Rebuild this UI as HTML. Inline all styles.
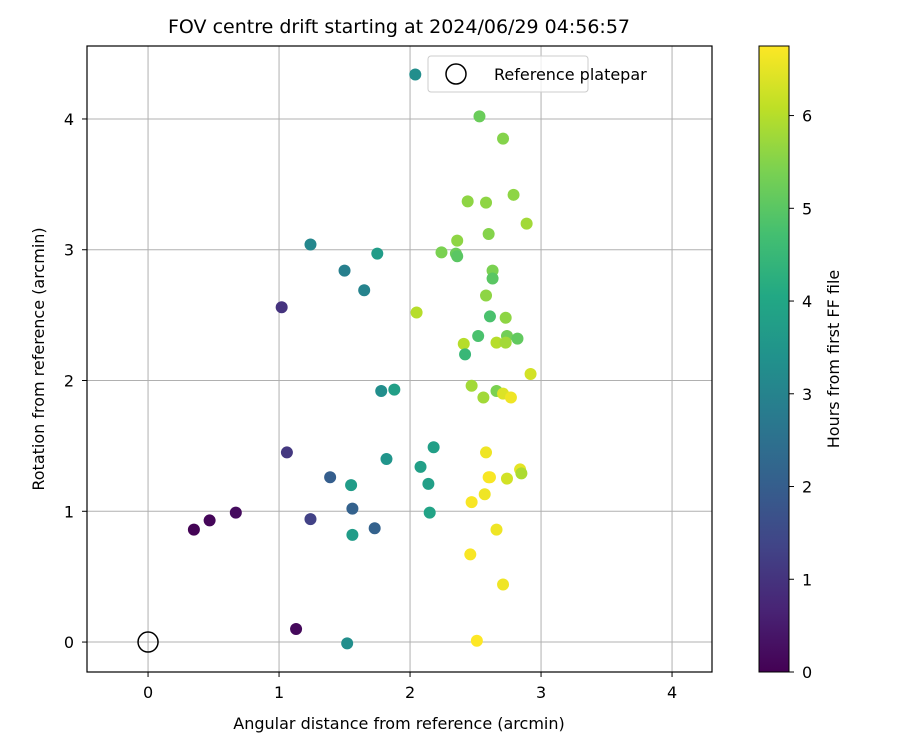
<!DOCTYPE html>
<html><head><meta charset="utf-8"><style>
html,body{margin:0;padding:0;background:#fff;}
svg{display:block;font-family:"DejaVu Sans","Liberation Sans",sans-serif;}
</style></head><body>
<svg id="chart" width="900" height="750" viewBox="0 0 900 750" xmlns="http://www.w3.org/2000/svg">
<defs>
<linearGradient id="vir" x1="0" y1="1" x2="0" y2="0">
<stop offset="0" stop-color="#440154"/><stop offset="0.1" stop-color="#482475"/><stop offset="0.2" stop-color="#414487"/><stop offset="0.3" stop-color="#355f8d"/><stop offset="0.4" stop-color="#2a788e"/><stop offset="0.5" stop-color="#21918c"/><stop offset="0.6" stop-color="#22a884"/><stop offset="0.7" stop-color="#44bf70"/><stop offset="0.8" stop-color="#7ad151"/><stop offset="0.9" stop-color="#bddf26"/><stop offset="1" stop-color="#fde725"/>
</linearGradient>
<clipPath id="clip"><rect x="87" y="46" width="625" height="626"/></clipPath>
</defs>
<text x="399" y="33" font-size="19" text-anchor="middle">FOV centre drift starting at 2024/06/29 04:56:57</text>
<g id="grid"></g>
<g id="points" clip-path="url(#clip)"></g>
<rect x="87" y="46" width="625" height="626" fill="none" stroke="#000" stroke-width="1.2"/>
<g id="axes"></g>
<text x="399" y="729" font-size="16" text-anchor="middle">Angular distance from reference (arcmin)</text>
<text transform="translate(44,359) rotate(-90)" font-size="16" text-anchor="middle">Rotation from reference (arcmin)</text>
<g>
<rect x="428" y="56" width="160" height="36" rx="3" fill="#fff" fill-opacity="0.8" stroke="#ccc"/>
<circle cx="456" cy="74" r="10" fill="none" stroke="#000" stroke-width="1.5"/>
<text x="494" y="80" font-size="16">Reference platepar</text>
</g>
<rect x="759" y="46" width="30" height="626" fill="url(#vir)" stroke="#000" stroke-width="1"/>
<g id="cbaxis"></g>
<text transform="translate(839,359) rotate(-90)" font-size="16" text-anchor="middle">Hours from first FF file</text>
</svg>
<script>
const xVals=[2.04,2.53,2.71,2.44,2.79,2.58,2.89,2.60,2.36,2.24,2.35,2.36,1.24,1.50,1.65,1.75,1.02,2.63,2.63,2.58,2.05,2.61,2.73,2.52,2.74,2.82,2.41,2.66,2.73,2.42,2.92,2.47,2.66,2.71,2.77,2.56,1.78,1.88,1.06,2.18,1.82,2.58,2.08,1.39,2.60,2.61,2.74,2.84,2.85,1.55,2.14,2.57,2.47,1.56,1.24,0.67,0.47,0.35,1.73,2.15,1.56,2.66,2.46,2.71,1.13,1.52,2.51];
const yVals=[4.34,4.02,3.85,3.37,3.42,3.36,3.20,3.12,3.07,2.98,2.97,2.95,3.04,2.84,2.69,2.97,2.56,2.84,2.78,2.65,2.52,2.49,2.48,2.34,2.34,2.32,2.28,2.29,2.29,2.20,2.05,1.96,1.92,1.90,1.87,1.87,1.92,1.93,1.45,1.49,1.40,1.45,1.34,1.26,1.26,1.26,1.25,1.32,1.29,1.20,1.21,1.13,1.07,1.02,0.94,0.99,0.93,0.86,0.87,0.99,0.82,0.86,0.67,0.44,0.10,-0.01,0.01];
const hours=[3.3,5.2,5.5,5.6,5.6,5.6,5.8,5.5,5.6,5.4,5.2,5.0,3.1,2.9,3.0,3.7,1.0,5.4,5.0,5.6,6.0,4.8,5.6,4.8,5.3,5.1,6.0,6.0,5.8,4.5,6.3,5.8,5.4,6.4,6.6,5.8,3.3,3.8,1.1,3.8,3.5,6.6,3.8,2.0,6.7,6.7,6.3,6.5,5.9,3.7,3.8,6.6,6.7,2.1,1.3,0.2,0.1,0.05,2.1,3.9,3.7,6.6,6.7,6.6,0.15,3.3,6.75];
const xTicks=[0,1,2,3,4];
const yTicks=[0,1,2,3,4];
const cTicks=[0,1,2,3,4,5,6];
const refPoint=[0,0];
const XMIN=-0.466,XMAX=4.305,YMIN=-0.229,YMAX=4.558,CMAX=6.75;
const X=v=>87+(v-XMIN)/(XMAX-XMIN)*625;
const Y=v=>672-(v-YMIN)/(YMAX-YMIN)*626;
const C=v=>672-v/CMAX*626;
const vir=["#440154","#482475","#414487","#355f8d","#2a788e","#21918c","#22a884","#44bf70","#7ad151","#bddf26","#fde725"];
function hx(h){return[1,3,5].map(i=>parseInt(h.substr(i,2),16));}
function color(t){t=Math.max(0,Math.min(1,t))*10;const i=Math.min(9,Math.floor(t)),f=t-i;const a=hx(vir[i]),b=hx(vir[i+1]);return"rgb("+a.map((v,k)=>Math.round(v+(b[k]-v)*f)).join(",")+")";}
const NS="http://www.w3.org/2000/svg";
function mk(tag,attrs,parent){const e=document.createElementNS(NS,tag);for(const k in attrs)e.setAttribute(k,attrs[k]);parent.appendChild(e);return e;}
const grid=document.getElementById("grid"),axes=document.getElementById("axes"),pts=document.getElementById("points"),cb=document.getElementById("cbaxis");
xTicks.forEach(t=>{const x=X(t);
const g=mk("line",{x1:x,x2:x,y1:46,y2:672,stroke:"#b0b0b0","stroke-width":1},grid);


const tk=mk("line",{x1:x,x2:x,y1:672,y2:677,stroke:"#000"},axes);


const l=mk("text",{x:x,y:698,"font-size":16,"text-anchor":"middle"},axes);l.textContent=t;

});
yTicks.forEach(t=>{const y=Y(t);
const g=mk("line",{x1:87,x2:712,y1:y,y2:y,stroke:"#b0b0b0","stroke-width":1},grid);


const tk=mk("line",{x1:82,x2:87,y1:y,y2:y,stroke:"#000"},axes);


const l=mk("text",{x:74,y:y+6,"font-size":16,"text-anchor":"end"},axes);l.textContent=t;

});
cTicks.forEach(t=>{const y=C(t);
const tk=mk("line",{x1:789,x2:794,y1:y,y2:y,stroke:"#000"},cb);


const l=mk("text",{x:802,y:y+6,"font-size":16},cb);l.textContent=t;

});
xVals.forEach((xv,i)=>{const c=mk("circle",{cx:X(xv),cy:Y(yVals[i]),r:6,fill:color(hours[i]/CMAX)},pts);

});
const r=mk("circle",{cx:X(refPoint[0]),cy:Y(refPoint[1]),r:10,fill:"none",stroke:"#000","stroke-width":1.5},pts);


</script>
</body></html>
